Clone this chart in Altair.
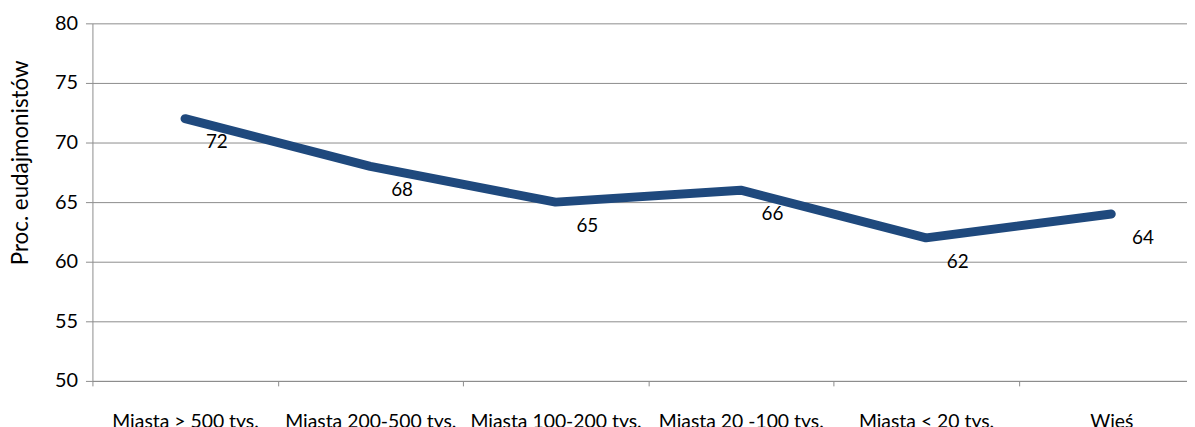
import altair as alt
import pandas as pd

categories = ["Miasta > 500 tys.", "Miasta 200-500 tys.", "Miasta 100-200 tys.",
              "Miasta 20 -100 tys.", "Miasta < 20 tys.", "Wieś"]
values = [72, 68, 65, 66, 62, 64]
y_ticks = [50, 55, 60, 65, 70, 75, 80]

df = pd.DataFrame({"kat": categories, "val": values})

FONT = "Lato"
BLUE = "#1F497D"
GRID = "#8C8C8C"

x = alt.X("kat:N", sort=categories, title=None,
          scale=alt.Scale(range=[0, 1119], paddingInner=0, paddingOuter=0),
          axis=alt.Axis(labelAngle=0, labelFont=FONT, labelFontSize=19.5, labelColor="#000",
                        labelPadding=27, labelBaseline="top", tickBand="extent",
                        tickSize=5, tickColor=GRID, domainColor=GRID, grid=False,
                        labelOverlap=False))
y = alt.Y("val:Q", title="Proc. eudajmonistów",
          scale=alt.Scale(domain=[50, 80], nice=False, zero=False),
          axis=alt.Axis(values=y_ticks, labelFont=FONT, labelFontSize=20, labelColor="#000",
                        labelPadding=8, tickSize=7, tickColor=GRID, domainColor=GRID,
                        gridColor=GRID, grid=True, titleFont=FONT, titleFontSize=22.5,
                        titleFontWeight="normal", titleColor="#000", titlePadding=22,
                        titleY=140))

line = alt.Chart(df).mark_line(color=BLUE, strokeWidth=9, strokeCap="round",
                               strokeJoin="round", interpolate="linear").encode(x=x, y=y)
labels = alt.Chart(df).mark_text(font=FONT, fontSize=19, color="#000", dx=32, dy=24).encode(
    x=x, y=y, text="val:Q")

chart = (line + labels).properties(
    width=1102, height=360,
    autosize=alt.AutoSizeParams(type="none"),
    padding={"left": 85, "top": 14, "right": 0, "bottom": 50},
).configure_view(stroke=None)

chart.save("out.html", embed_options={"renderer": "svg", "actions": False})
